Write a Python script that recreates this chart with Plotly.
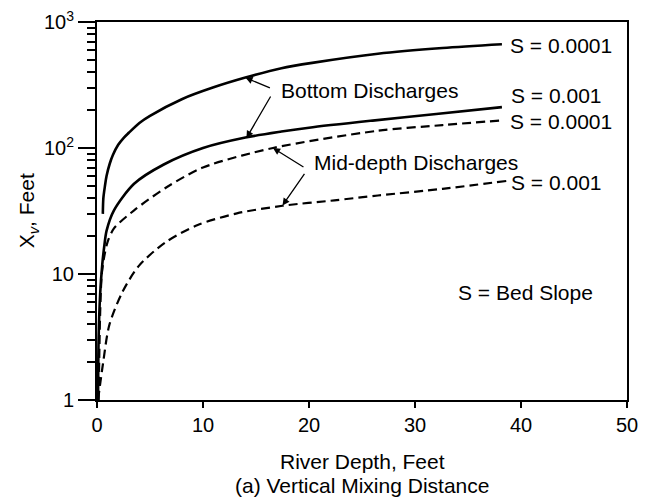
import numpy as np
import plotly.graph_objects as go

# River depth (ft) and vertical mixing distance Xv (ft)
bot_s0001_x = [0.55, 0.6, 0.75, 0.9, 1.2, 1.5, 2.0, 2.5, 3.0, 4.0, 5.0, 8.0, 11.0, 14.0, 17.4, 20.3, 26.5, 32.6, 38.2]
bot_s0001_y = [30, 40, 50, 60, 75, 88, 106, 120, 132, 158, 180, 244, 303, 362, 430, 474, 560, 621, 665]

bot_s001_x = [0.1, 0.15, 0.3, 0.5, 0.7, 0.9, 1.6, 3.5, 6.3, 10.0, 14.0, 17.4, 20.0, 26.0, 32.0, 38.2]
bot_s001_y = [1, 3, 7, 12, 17, 22, 32, 52, 74, 100, 121, 135, 145, 165, 186, 211]

mid_s0001_x = [0.15, 0.3, 0.45, 0.7, 1.0, 1.6, 3.5, 6.6, 10.0, 16.6, 26.5, 32.6, 38.3]
mid_s0001_y = [1, 5, 10, 14, 18, 23, 32, 49, 70, 100, 137, 152, 166]

mid_s001_x = [0.1, 0.56, 1.17, 2.4, 3.95, 6.4, 9.5, 13.2, 17.5, 22.4, 26.5, 32.6, 38.8]
mid_s001_y = [1, 1.93, 3.96, 7.2, 11.6, 17.7, 24.5, 30.3, 34.8, 38.4, 42, 47.4, 55]

x_ticks = [0, 10, 20, 30, 40, 50]
y_ticks = [1, 10, 100, 1000]
y_ticktext = ["1", "10", "10<sup>2</sup>", "10<sup>3</sup>"]
y_minor = [m * d for d in (1, 10, 100) for m in range(2, 10)]

FONT = "Liberation Sans, Arial, sans-serif"

fig = go.Figure()
fig.add_trace(go.Scatter(x=bot_s0001_x, y=bot_s0001_y, mode="lines",
                         line=dict(color="black", width=2.6, shape="spline", smoothing=0.8)))
fig.add_trace(go.Scatter(x=bot_s001_x, y=bot_s001_y, mode="lines",
                         line=dict(color="black", width=2.6, shape="spline", smoothing=0.8)))
fig.add_trace(go.Scatter(x=mid_s0001_x, y=mid_s0001_y, mode="lines",
                         line=dict(color="black", width=2.2, shape="spline", smoothing=0.8,
                                   dash="9px,5px")))
fig.add_trace(go.Scatter(x=mid_s001_x, y=mid_s001_y, mode="lines",
                         line=dict(color="black", width=2.2, shape="spline", smoothing=0.8,
                                   dash="9px,5px")))

L = np.log10
annots = []
# arrows
for (tx, ty, ax, ay) in [(14.0, 362, 26, 11), (14.1, 120, 25, -43),
                         (16.6, 100, 32, 20), (17.5, 35, 23, -33)]:
    annots.append(dict(x=tx, y=L(ty), xref="x", yref="y", ax=ax, ay=ay,
                       showarrow=True, arrowhead=2, arrowsize=1.1, arrowwidth=1.3,
                       arrowcolor="black", text=""))
# text labels
def lab(text, x, yv, xanchor="left", size=21):
    annots.append(dict(x=x, y=L(yv), xref="x", yref="y", text=text, showarrow=False,
                       xanchor=xanchor, yanchor="middle",
                       font=dict(family=FONT, size=size, color="black")))

lab("Bottom Discharges", 17.2, 10 ** 2.455)
lab("Mid-depth Discharges", 20.3, 10 ** 1.886)
lab("S = 0.0001", 38.8, 10 ** 2.811)
lab("S = 0.001", 38.9, 10 ** 2.416)
lab("S = 0.0001", 38.8, 10 ** 2.214)
lab("S = 0.001", 38.9, 10 ** 1.730)
lab("S = Bed Slope", 47.0, 10 ** 0.857, xanchor="right")

# axis titles
annots.append(dict(x=-0.158, y=0.5, xref="paper", yref="paper", showarrow=False,
                   text="X<sub><i>v</i></sub>, Feet", textangle=-90,
                   font=dict(family=FONT, size=21, color="black")))
annots.append(dict(x=0.5, y=-0.164, xref="paper", yref="paper", showarrow=False,
                   text="River Depth, Feet", yanchor="middle",
                   font=dict(family=FONT, size=21, color="black")))
annots.append(dict(x=0.5, y=-0.225, xref="paper", yref="paper", showarrow=False,
                   text="(a) Vertical Mixing Distance", yanchor="middle",
                   font=dict(family=FONT, size=21, color="black")))

fig.update_layout(
    width=646, height=497,
    margin=dict(l=97, r=8, t=15, b=97),
    paper_bgcolor="white", plot_bgcolor="white",
    showlegend=False,
    annotations=annots,
    font=dict(family=FONT, size=20, color="black"),
)
fig.update_xaxes(range=[0, 50], tickvals=x_ticks, ticks="outside", ticklen=6,
                 tickwidth=1.5, tickcolor="black", showline=True, linecolor="black",
                 linewidth=2, mirror=True, showgrid=False, zeroline=False,
                 ticklabeloverflow="allow", tickfont=dict(family=FONT, size=20))
fig.update_yaxes(type="log", range=[0, 3], tickvals=y_ticks, ticktext=y_ticktext,
                 ticks="outside", ticklen=17, tickwidth=1.5, tickcolor="black",
                 showline=True, linecolor="black", linewidth=2, mirror=True,
                 showgrid=False, zeroline=False, tickfont=dict(family=FONT, size=20),
                 minor=dict(tickvals=y_minor, ticks="outside", ticklen=8, tickwidth=1.5,
                            tickcolor="black", showgrid=False))
fig.write_html("out.html")
